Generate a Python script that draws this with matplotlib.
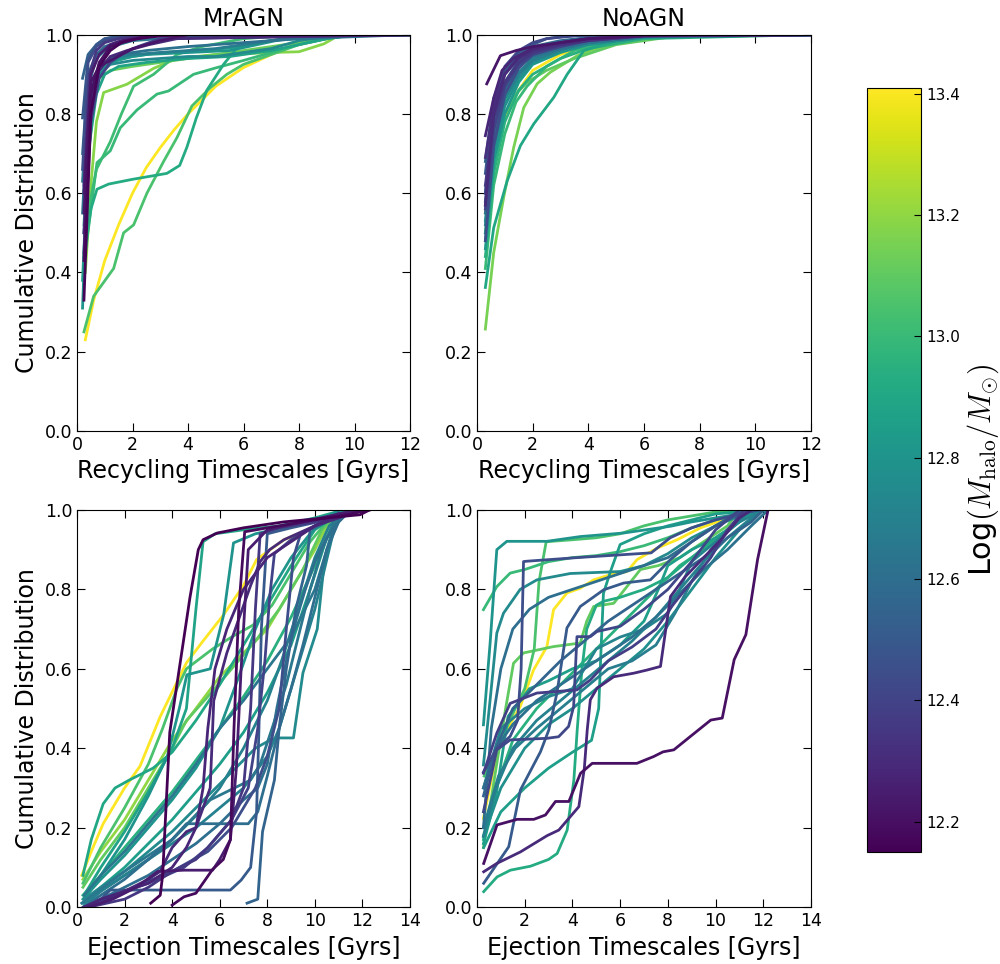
import matplotlib
matplotlib.use('Agg')
import matplotlib.pyplot as plt
from matplotlib import colors, cm

# halo masses and CDF curves
# --- MrAGN recycling ---
rec_mr_mass = [12.16, 12.2, 12.22, 12.25, 12.3, 12.35, 12.4, 12.45, 12.5, 12.55, 12.58, 12.62, 12.65,
               12.68, 12.75, 12.8, 12.85, 12.88, 12.92, 13.0, 13.02, 13.05, 13.12, 13.18, 13.41]
rec_mr_t = [
    [0.25, 0.5, 0.8, 1.2, 1.6, 2.2, 3, 4, 12],
    [0.25, 0.5, 0.8, 1.2, 1.8, 2.5, 3.5, 12],
    [0.25, 0.5, 0.8, 1.2, 1.6, 2, 3, 4, 12],
    [0.25, 0.5, 0.8, 1.2, 1.6, 2.4, 3.2, 12],
    [0.25, 0.5, 0.8, 1.2, 1.8, 2.6, 3.6, 12],
    [0.25, 0.45, 0.7, 1, 1.5, 2, 3, 12],
    [0.25, 0.5, 0.8, 1.2, 1.6, 2.2, 3, 12],
    [0.2, 0.4, 0.7, 1, 1.5, 2, 12],
    [0.2, 0.4, 0.7, 1, 1.4, 2, 12],
    [0.2, 0.4, 0.7, 1, 1.5, 2.2, 12],
    [0.2, 0.4, 0.7, 1.0, 1.4, 2, 3, 12],
    [0.2, 0.4, 0.7, 1, 1.5, 2.5, 4, 6, 8, 12],
    [0.2, 0.4, 0.7, 1, 1.5, 2, 3, 4, 6, 12],
    [0.25, 0.5, 0.8, 1.2, 2, 3, 4, 5, 6, 7, 8, 12],
    [0.25, 0.5, 0.8, 1.2, 2, 3, 4, 5, 6, 7, 8, 9, 10, 12],
    [0.2, 0.4, 0.7, 1, 1.5, 2.5, 4, 5.5, 6.5, 7.5, 9, 12],
    [0.25, 0.5, 0.8, 1.2, 2, 3, 4.5, 6, 7, 8, 9, 12],
    [0.2, 0.4, 0.7, 1, 1.5, 2.5, 4, 5.5, 7, 8, 9, 10, 12],
    [0.25, 0.5, 0.72, 1.14, 2, 3.24, 3.7, 3.96, 4.3, 4.68, 5.29, 5.77, 6.5, 7.5, 8.5, 12],
    [0.3, 0.72, 1.2, 1.56, 2.16, 2.88, 3.3, 4.2, 5.04, 6, 7, 8, 9, 10, 12],
    [0.3, 0.7, 1.2, 1.6, 2.04, 2.76, 3.6, 4.5, 6, 8, 12],
    [0.25, 0.6, 1.32, 1.68, 2.04, 2.52, 3.12, 3.6, 4.14, 4.8, 5.4, 6, 7, 8, 9, 10, 12],
    [0.3, 0.5, 0.8, 1.2, 2, 3, 4, 5, 6, 7, 8, 9, 10, 12],
    [0.3, 0.5, 0.7, 0.96, 1.4, 1.8, 2.76, 3.6, 5, 6, 7, 8, 8.9, 9.4, 10, 12],
    [0.3, 0.6, 1, 1.5, 2, 2.5, 3, 3.5, 4, 5, 6, 7, 8, 9, 10, 12],
]
rec_mr_f = [
    [0.33, 0.80, 0.92, 0.96, 0.98, 0.99, 0.997, 1, 1],
    [0.43, 0.85, 0.93, 0.97, 0.985, 0.995, 1, 1],
    [0.55, 0.88, 0.92, 0.935, 0.95, 0.965, 0.985, 1, 1],
    [0.6, 0.9, 0.95, 0.975, 0.985, 0.995, 1, 1],
    [0.5, 0.83, 0.91, 0.945, 0.96, 0.975, 0.99, 1],
    [0.62, 0.9, 0.96, 0.98, 0.99, 0.995, 1, 1],
    [0.45, 0.78, 0.89, 0.93, 0.95, 0.97, 0.99, 1],
    [0.66, 0.93, 0.97, 0.985, 0.995, 1, 1],
    [0.79, 0.94, 0.975, 0.99, 0.995, 1, 1],
    [0.89, 0.95, 0.975, 0.99, 0.995, 1, 1],
    [0.7, 0.9, 0.95, 0.97, 0.98, 0.99, 1, 1],
    [0.55, 0.82, 0.9, 0.93, 0.95, 0.96, 0.97, 0.98, 0.99, 1],
    [0.63, 0.87, 0.94, 0.96, 0.975, 0.985, 0.99, 0.995, 1, 1],
    [0.6, 0.86, 0.92, 0.94, 0.95, 0.955, 0.96, 0.965, 0.975, 0.985, 0.995, 1],
    [0.5, 0.8, 0.9, 0.925, 0.935, 0.94, 0.945, 0.945, 0.955, 0.965, 0.985, 0.995, 1, 1],
    [0.31, 0.7, 0.88, 0.92, 0.94, 0.95, 0.955, 0.96, 0.975, 0.99, 1, 1],
    [0.52, 0.82, 0.91, 0.93, 0.945, 0.955, 0.96, 0.97, 0.985, 0.99, 1, 1],
    [0.38, 0.7, 0.85, 0.9, 0.92, 0.93, 0.94, 0.945, 0.96, 0.975, 0.99, 1, 1],
    [0.44, 0.56, 0.61, 0.623, 0.635, 0.65, 0.67, 0.716, 0.79, 0.86, 0.926, 0.967, 0.98, 0.99, 1, 1],
    [0.45, 0.677, 0.707, 0.765, 0.81, 0.85, 0.858, 0.9, 0.917, 0.935, 0.955, 0.975, 0.99, 1, 1],
    [0.52, 0.66, 0.73, 0.8, 0.87, 0.9, 0.95, 0.97, 0.99, 1, 1],
    [0.25, 0.34, 0.41, 0.5, 0.52, 0.6, 0.68, 0.74, 0.82, 0.866, 0.9, 0.925, 0.95, 0.975, 0.99, 1, 1],
    [0.55, 0.8, 0.89, 0.91, 0.92, 0.93, 0.94, 0.95, 0.96, 0.97, 0.98, 0.99, 1, 1],
    [0.4, 0.62, 0.78, 0.854, 0.865, 0.875, 0.915, 0.94, 0.95, 0.952, 0.955, 0.957, 0.977, 0.997, 1, 1],
    [0.23, 0.33, 0.43, 0.52, 0.6, 0.665, 0.715, 0.76, 0.80, 0.87, 0.917, 0.95, 0.98, 0.99, 1, 1],
]

# --- NoAGN recycling ---
rec_no_mass = [12.22, 12.28, 12.32, 12.35, 12.4, 12.45, 12.5, 12.55, 12.6, 12.62, 12.68, 12.72, 12.78,
               12.82, 12.9, 12.95, 13.0, 13.15, 13.4, 13.1, 12.85, 12.42, 12.3, 12.58, 12.92]
rec_no_t = [
    [0.35, 0.84, 1.4, 2, 3, 4, 6, 8, 12],
    [0.3, 0.6, 0.9, 1.3, 2, 3, 4, 6, 12],
    [0.3, 0.6, 1, 1.5, 2, 3, 4, 6, 12],
    [0.3, 0.6, 1, 1.5, 2, 3, 4, 6, 12],
    [0.3, 0.6, 1, 1.5, 2, 3, 4, 6, 12],
    [0.3, 0.6, 1, 1.5, 2, 3, 4, 6, 12],
    [0.3, 0.6, 1, 1.5, 2, 2.5, 3, 4, 12],
    [0.3, 0.6, 1, 1.5, 2, 3, 4, 6, 12],
    [0.3, 0.6, 1, 1.5, 2, 3, 4, 6, 12],
    [0.3, 0.6, 1, 1.5, 2, 3, 4, 6, 12],
    [0.3, 0.6, 1, 1.5, 2, 3, 4, 6, 12],
    [0.3, 0.6, 1, 1.5, 2, 3, 4, 6, 12],
    [0.3, 0.6, 1, 1.5, 2, 3, 4, 6, 12],
    [0.3, 0.6, 1, 1.5, 2, 3, 4, 6, 12],
    [0.3, 0.6, 1.08, 1.56, 2.04, 2.76, 3.24, 3.84, 5, 6, 8, 12],
    [0.3, 0.6, 1, 1.5, 2, 3, 4, 6, 12],
    [0.3, 0.6, 1, 1.4, 1.8, 2.5, 3.5, 5, 7, 12],
    [0.3, 0.6, 0.96, 1.32, 1.68, 2.16, 2.63, 3.6, 4.07, 5, 6, 8, 12],
    [0.3, 0.6, 1, 1.5, 2, 3, 4, 6, 8, 12],
    [0.3, 0.6, 1, 1.4, 1.8, 2.5, 3.5, 5, 7, 12],
    [0.3, 0.6, 1, 1.5, 2, 3, 4, 6, 12],
    [0.3, 0.6, 1, 1.5, 2, 2.5, 3.5, 5, 12],
    [0.3, 0.6, 1, 1.5, 2, 3, 4, 6, 12],
    [0.3, 0.6, 1, 1.5, 2, 3, 4, 6, 12],
    [0.3, 0.6, 1, 1.5, 2, 3, 4, 6, 12],
]
rec_no_f = [
    [0.876, 0.947, 0.96, 0.97, 0.98, 0.99, 0.997, 1, 1],
    [0.745, 0.84, 0.91, 0.94, 0.965, 0.98, 0.99, 0.998, 1],
    [0.69, 0.82, 0.9, 0.94, 0.96, 0.975, 0.985, 0.997, 1],
    [0.62, 0.79, 0.88, 0.93, 0.955, 0.975, 0.988, 0.998, 1],
    [0.56, 0.76, 0.87, 0.925, 0.95, 0.97, 0.985, 0.997, 1],
    [0.48, 0.72, 0.85, 0.915, 0.95, 0.975, 0.99, 0.998, 1],
    [0.65, 0.83, 0.91, 0.955, 0.975, 0.99, 0.995, 1, 1],
    [0.58, 0.77, 0.88, 0.935, 0.96, 0.98, 0.99, 0.998, 1],
    [0.55, 0.74, 0.86, 0.92, 0.95, 0.972, 0.985, 0.997, 1],
    [0.6, 0.78, 0.87, 0.92, 0.945, 0.965, 0.98, 0.995, 1],
    [0.52, 0.72, 0.84, 0.9, 0.935, 0.962, 0.98, 0.995, 1],
    [0.57, 0.75, 0.85, 0.905, 0.94, 0.965, 0.98, 0.996, 1],
    [0.5, 0.7, 0.82, 0.89, 0.93, 0.958, 0.975, 0.994, 1],
    [0.46, 0.68, 0.8, 0.88, 0.925, 0.955, 0.975, 0.993, 1],
    [0.362, 0.513, 0.63, 0.72, 0.775, 0.842, 0.9, 0.96, 0.985, 0.995, 1, 1],
    [0.44, 0.65, 0.78, 0.86, 0.9, 0.94, 0.965, 0.99, 1],
    [0.41, 0.62, 0.75, 0.83, 0.87, 0.92, 0.96, 0.985, 1, 1],
    [0.257, 0.45, 0.59, 0.716, 0.816, 0.876, 0.905, 0.947, 0.96, 0.98, 0.99, 1, 1],
    [0.55, 0.7, 0.79, 0.86, 0.91, 0.95, 0.975, 0.995, 1, 1],
    [0.5, 0.68, 0.8, 0.85, 0.88, 0.91, 0.94, 0.975, 0.995, 1],
    [0.53, 0.74, 0.86, 0.92, 0.95, 0.97, 0.985, 0.997, 1],
    [0.6, 0.82, 0.92, 0.96, 0.98, 0.99, 0.997, 1, 1],
    [0.57, 0.8, 0.9, 0.945, 0.965, 0.98, 0.99, 0.998, 1],
    [0.68, 0.84, 0.91, 0.95, 0.97, 0.985, 0.993, 0.999, 1],
    [0.48, 0.7, 0.83, 0.9, 0.94, 0.965, 0.98, 0.995, 1],
]

# --- MrAGN ejection ---
ej_mr_mass = [13.41, 12.15, 12.18, 12.8, 12.3, 12.35, 12.4, 12.45, 12.55, 12.5, 12.25, 12.75, 12.6,
              12.9, 13.2, 13.1, 13.05, 12.95, 12.85, 12.7, 12.8, 12.65, 12.88, 12.6, 12.7, 12.65, 12.28]
ej_mr_t = [
    [0.2, 0.6, 1.1, 2.0, 2.65, 3.5, 4.6, 5.3, 6.15, 7.0, 7.55, 8.7, 10.1, 11.0, 12.0],
    [3.1, 3.5, 3.6, 3.9, 4.3, 4.75, 5.1, 5.3, 5.9, 7.0, 8.7, 10.5, 11.9, 12.3],
    [4.0, 4.5, 5.0, 5.7, 6.15, 6.45, 6.6, 6.8, 7.05, 8.0, 10.0, 11.5, 12.2],
    [0.3, 1, 2, 3, 3.8, 4.3, 4.62, 5.6, 6.17, 6.58, 7.5, 9, 10.5, 11.5],
    [0.3, 1, 2, 3, 3.5, 4, 4.6, 5.0, 5.6, 5.75, 6.3, 7.3, 7.7, 8.1, 8.7, 10, 11.5, 12.2],
    [0.5, 2, 3, 4, 5, 5.5, 6.5, 7.0, 7.3, 7.5, 7.7, 8.5, 10, 11, 12],
    [0.3, 1.5, 3, 4.5, 5.5, 6.5, 7.2, 7.6, 7.9, 8.1, 8.3, 9.0, 10, 11, 12],
    [0.3, 2, 4, 5.5, 6.5, 7.5, 8, 8.5, 8.8, 9.1, 9.4, 10, 11, 12],
    [7.15, 7.6, 7.8, 8.3, 8.5, 8.8, 9.2, 9.65, 9.8, 10.5, 11.5, 12.1],
    [0.3, 1, 1.4, 3, 6.45, 6.9, 7.3, 7.55, 7.65, 7.75, 8.0, 9, 10.5, 12],
    [0.5, 1.5, 2.5, 3.4, 4.5, 5.7, 6.0, 6.45, 6.7, 6.9, 7.2, 8, 9.5, 11, 12.3],
    [0.3, 1, 2, 3, 4, 5, 6, 7, 7.5, 8.1, 8.4, 9.1, 9.5, 10.1, 10.4, 10.9, 11.3],
    [0.3, 1, 2, 3, 4, 4.6, 7.2, 7.6, 8.0, 8.5, 9, 9.5, 10, 10.5, 11, 11.5],
    [0.25, 0.6, 1.1, 1.6, 2.2, 3.2, 4.0, 5, 6, 7, 8, 9, 10, 11, 11.5],
    [0.25, 1, 2, 3, 4, 5, 6, 7, 8, 9, 10, 10.5, 11],
    [0.25, 1, 2, 3, 4, 4.6, 5.5, 6.5, 7.5, 8.5, 9.5, 10.3, 11],
    [0.25, 1, 2, 3, 3.6, 4.2, 4.6, 5.7, 6.5, 7.4, 8.2, 9, 9.8, 10.5, 11],
    [0.25, 1, 2, 3, 4, 5, 6, 7, 8, 9, 10, 10.8, 11.2],
    [0.25, 1, 2, 3, 4, 5, 6, 7, 8, 9, 9.8, 10.5, 11.2],
    [0.25, 1, 2, 3, 4, 5, 6, 7, 8, 8.6, 9.3, 10, 10.6, 11.3],
    [0.25, 1, 2, 3, 4, 5, 6, 6.8, 7.5, 8.2, 9, 9.8, 10.5, 11],
    [0.2, 2, 4, 5.6, 7.3, 7.7, 8.2, 8.8, 9.3, 9.8, 10.3, 10.8, 11.4],
    [0.3, 1, 2, 3, 4, 4.6, 5.0, 5.3, 5.8, 7, 8.5, 10, 11.2],
    [0.3, 1, 2, 3, 4, 5, 6, 7, 7.6, 8.0, 8.4, 8.8, 9.2, 9.6, 10, 10.5, 11, 11.5],
    [0.3, 1, 2, 3, 4, 5, 6, 7, 8, 8.5, 9, 9.5, 10, 10.4, 10.8, 11.2],
    [0.3, 1, 2, 3, 4, 5, 6, 7, 8, 9, 10, 10.5, 11],
    [0.3, 1, 2, 3, 4, 4.6, 5.0, 5.3, 5.5, 5.8, 6.3, 7, 8, 9, 10, 11, 12],
]
ej_mr_f = [
    [0.08, 0.14, 0.21, 0.30, 0.355, 0.48, 0.615, 0.67, 0.735, 0.81, 0.875, 0.925, 0.96, 0.985, 1.0],
    [0.01, 0.03, 0.08, 0.44, 0.6, 0.78, 0.9, 0.925, 0.942, 0.955, 0.97, 0.98, 0.988, 1.0],
    [0.005, 0.026, 0.035, 0.095, 0.12, 0.17, 0.45, 0.75, 0.945, 0.955, 0.975, 0.99, 1.0],
    [0.02, 0.08, 0.17, 0.28, 0.38, 0.5, 0.585, 0.6, 0.737, 0.917, 0.94, 0.96, 0.98, 1.0],
    [0.0, 0.01, 0.04, 0.07, 0.09, 0.15, 0.19, 0.2, 0.3, 0.52, 0.64, 0.81, 0.87, 0.9, 0.925, 0.96, 0.99, 1.0],
    [0.0, 0.02, 0.05, 0.09, 0.12, 0.15, 0.22, 0.3, 0.5, 0.75, 0.94, 0.955, 0.97, 0.99, 1.0],
    [0.0, 0.03, 0.06, 0.1, 0.15, 0.22, 0.3, 0.45, 0.62, 0.78, 0.89, 0.925, 0.96, 0.99, 1.0],
    [0.0, 0.04, 0.09, 0.14, 0.2, 0.3, 0.38, 0.5, 0.7, 0.88, 0.94, 0.96, 0.985, 1.0],
    [0.01, 0.02, 0.19, 0.32, 0.45, 0.6, 0.75, 0.86, 0.95, 0.97, 0.99, 1.0],
    [0.0, 0.02, 0.043, 0.043, 0.043, 0.068, 0.1, 0.24, 0.45, 0.7, 0.94, 0.955, 0.975, 1.0],
    [0.0, 0.02, 0.05, 0.09, 0.093, 0.093, 0.12, 0.17, 0.35, 0.6, 0.9, 0.95, 0.97, 0.99, 1.0],
    [0.02, 0.05, 0.09, 0.14, 0.19, 0.25, 0.31, 0.37, 0.4, 0.42, 0.426, 0.426, 0.59, 0.7, 0.87, 0.975, 1.0],
    [0.0, 0.03, 0.07, 0.12, 0.17, 0.21, 0.21, 0.24, 0.33, 0.45, 0.55, 0.66, 0.78, 0.9, 0.97, 1.0],
    [0.08, 0.17, 0.26, 0.3, 0.32, 0.35, 0.39, 0.47, 0.56, 0.66, 0.76, 0.86, 0.95, 0.99, 1.0],
    [0.07, 0.14, 0.22, 0.32, 0.42, 0.5, 0.58, 0.64, 0.7, 0.8, 0.9, 0.96, 1.0],
    [0.05, 0.12, 0.2, 0.3, 0.4, 0.47, 0.53, 0.6, 0.67, 0.75, 0.85, 0.95, 1.0],
    [0.06, 0.15, 0.25, 0.36, 0.45, 0.55, 0.6, 0.65, 0.68, 0.71, 0.76, 0.84, 0.92, 0.97, 1.0],
    [0.03, 0.08, 0.15, 0.22, 0.29, 0.37, 0.45, 0.53, 0.62, 0.73, 0.86, 0.97, 1.0],
    [0.01, 0.05, 0.1, 0.16, 0.22, 0.29, 0.36, 0.44, 0.54, 0.66, 0.8, 0.93, 1.0],
    [0.0, 0.04, 0.08, 0.12, 0.17, 0.23, 0.3, 0.4, 0.52, 0.62, 0.75, 0.88, 0.96, 1.0],
    [0.02, 0.07, 0.13, 0.2, 0.27, 0.35, 0.45, 0.58, 0.7, 0.8, 0.88, 0.94, 0.98, 1.0],
    [0.01, 0.09, 0.17, 0.27, 0.32, 0.36, 0.45, 0.56, 0.68, 0.8, 0.9, 0.97, 1.0],
    [0.03, 0.1, 0.19, 0.29, 0.4, 0.5, 0.75, 0.92, 0.94, 0.95, 0.96, 0.98, 1.0],
    [0.0, 0.02, 0.05, 0.08, 0.12, 0.16, 0.21, 0.27, 0.3, 0.36, 0.5, 0.62, 0.72, 0.8, 0.87, 0.93, 0.97, 1.0],
    [0.01, 0.04, 0.08, 0.12, 0.16, 0.2, 0.25, 0.3, 0.38, 0.45, 0.55, 0.65, 0.75, 0.85, 0.95, 1.0],
    [0.03, 0.08, 0.14, 0.21, 0.28, 0.36, 0.45, 0.52, 0.6, 0.68, 0.8, 0.9, 1.0],
    [0.0, 0.02, 0.04, 0.06, 0.1, 0.15, 0.2, 0.3, 0.45, 0.6, 0.7, 0.8, 0.88, 0.92, 0.96, 0.99, 1.0],
]

# --- NoAGN ejection ---
ej_no_mass = [12.2, 12.3, 12.45, 12.5, 12.42, 12.38, 12.92, 12.85, 12.8, 12.75, 13.0, 13.05, 13.42,
              12.7, 12.62, 12.85, 13.1, 12.95, 12.55, 12.68, 12.78, 12.6, 12.72]
ej_no_t = [
    [0.28, 0.84, 1.68, 2.38, 2.87, 3.29, 3.85, 4.34, 4.83, 5.5, 6.7, 7.4, 7.8, 8.25, 8.95, 9.8, 10.28, 10.78, 11.27, 11.76, 12.2],
    [0.28, 0.83, 1.82, 2.94, 3.43, 4.27, 4.5, 4.62, 4.75, 5.03, 5.73, 6.57, 7.13, 7.69, 8.11, 8.7, 9.5, 10.3, 11, 11.5],
    [0.27, 0.83, 1.39, 1.7, 1.85, 1.95, 2.1, 4.2, 7.3, 8.1, 9, 10, 11, 11.8],
    [0.28, 1.33, 1.82, 2.66, 3.01, 3.35, 3.77, 4.33, 5.31, 6.15, 7.27, 8.11, 9, 10, 11, 11.8],
    [0.27, 0.83, 1.39, 2.93, 3.42, 3.84, 4.05, 4.19, 4.75, 5.03, 6.0, 7, 8, 9, 10, 11],
    [0.27, 0.83, 1.39, 2.51, 4.19, 4.75, 5.5, 6.5, 7.5, 8.2, 9, 9.8, 10.5, 11.2],
    [0.28, 0.84, 1.4, 2.24, 3.0, 3.36, 3.78, 4.06, 4.2, 4.4, 4.6, 5.0, 5.3, 6, 7, 8, 9, 10, 11, 11.8],
    [0.28, 1, 2, 3, 4, 4.8, 5.1, 5.2, 5.3, 5.6, 6.0, 7, 8, 9, 10, 11, 12],
    [0.27, 0.55, 0.83, 1.25, 2.93, 4.33, 6.15, 8.11, 9, 10, 11, 12],
    [0.27, 0.55, 0.83, 1.11, 1.81, 2.51, 3.91, 6.0, 7, 8, 9, 10, 11, 12],
    [0.27, 0.83, 1.39, 2.0, 2.5, 3.0, 4, 5, 6, 7, 8, 9, 10, 11, 12],
    [0.3, 1, 1.6, 2.0, 2.4, 2.6, 2.9, 4, 5, 6, 7, 8, 9, 10, 11],
    [0.27, 0.83, 1.25, 1.81, 2.37, 2.93, 3.21, 3.77, 4.33, 4.89, 5.59, 6.29, 6.71, 7.55, 8.39, 9.37, 10.3, 11.2, 12],
    [0.27, 0.8, 1.5, 2.5, 3.5, 4.5, 5.5, 6.5, 7.5, 8.5, 9.5, 10.5, 11.5, 12],
    [0.27, 0.8, 1.5, 2.5, 3.5, 4.5, 5.5, 6.5, 7.5, 8.5, 9.5, 10.5, 11.5, 12.2],
    [0.27, 0.8, 1.3, 2.2, 3, 4, 5, 6, 7, 7.6, 8, 9, 10, 11, 11.6],
    [0.27, 0.8, 1.2, 1.53, 1.95, 3.21, 4.33, 4.6, 4.89, 5.73, 6.85, 7.6, 8.5, 9.5, 10.5, 11],
    [0.27, 0.8, 1.5, 2.5, 3.5, 4.5, 5.5, 6.5, 7.5, 8.5, 9.5, 10.5, 11.5],
    [0.27, 0.8, 1.5, 2.5, 3.5, 4.5, 5.5, 6.5, 7.5, 8.5, 9.5, 10.5, 11.5, 12],
    [0.27, 0.9, 1.6, 2.5, 3.5, 4.5, 5.5, 6.5, 7.5, 8.3, 9, 9.8, 10.5, 11.5],
    [0.27, 1, 2, 3, 4, 5, 6, 7, 8, 9, 10, 11, 12],
    [0.27, 0.6, 1, 1.5, 2.2, 3, 4, 5, 6, 7, 8, 9, 10, 10.8, 11.5],
    [0.27, 1, 2, 3, 4, 4.5, 5, 6, 7, 8, 8.5, 9, 10, 11, 12],
]
ej_no_f = [
    [0.11, 0.207, 0.221, 0.221, 0.232, 0.266, 0.266, 0.337, 0.362, 0.362, 0.362, 0.379, 0.391, 0.396, 0.43, 0.471, 0.476, 0.623, 0.686, 0.875, 1.0],
    [0.089, 0.11, 0.139, 0.18, 0.194, 0.253, 0.35, 0.446, 0.522, 0.551, 0.58, 0.589, 0.597, 0.606, 0.782, 0.83, 0.88, 0.93, 0.98, 1.0],
    [0.34, 0.4, 0.43, 0.47, 0.6, 0.87, 0.871, 0.88, 0.892, 0.93, 0.955, 0.975, 0.99, 1.0],
    [0.06, 0.152, 0.295, 0.391, 0.446, 0.539, 0.703, 0.757, 0.799, 0.816, 0.824, 0.875, 0.92, 0.96, 0.99, 1.0],
    [0.24, 0.396, 0.421, 0.425, 0.429, 0.455, 0.505, 0.681, 0.681, 0.694, 0.707, 0.75, 0.8, 0.87, 0.95, 1.0],
    [0.337, 0.438, 0.513, 0.539, 0.547, 0.572, 0.62, 0.655, 0.7, 0.76, 0.82, 0.88, 0.95, 1.0],
    [0.039, 0.076, 0.093, 0.103, 0.12, 0.135, 0.194, 0.32, 0.446, 0.6, 0.7, 0.76, 0.77, 0.78, 0.8, 0.83, 0.88, 0.93, 0.97, 1.0],
    [0.15, 0.24, 0.3, 0.35, 0.39, 0.42, 0.5, 0.65, 0.79, 0.846, 0.913, 0.94, 0.96, 0.975, 0.99, 0.995, 1.0],
    [0.459, 0.665, 0.9, 0.921, 0.921, 0.933, 0.942, 0.959, 0.97, 0.98, 0.99, 1.0],
    [0.358, 0.522, 0.69, 0.74, 0.8, 0.824, 0.84, 0.845, 0.86, 0.89, 0.93, 0.96, 0.985, 1.0],
    [0.749, 0.807, 0.841, 0.85, 0.86, 0.87, 0.88, 0.885, 0.895, 0.91, 0.93, 0.955, 0.975, 0.99, 1.0],
    [0.33, 0.42, 0.5, 0.55, 0.65, 0.82, 0.92, 0.925, 0.93, 0.94, 0.96, 0.975, 0.985, 0.995, 1.0],
    [0.224, 0.387, 0.446, 0.505, 0.597, 0.656, 0.749, 0.791, 0.803, 0.824, 0.837, 0.845, 0.875, 0.904, 0.925, 0.955, 0.975, 0.99, 1.0],
    [0.18, 0.3, 0.4, 0.47, 0.52, 0.57, 0.62, 0.67, 0.73, 0.8, 0.87, 0.93, 0.98, 1.0],
    [0.3, 0.4, 0.46, 0.52, 0.56, 0.6, 0.64, 0.68, 0.73, 0.79, 0.85, 0.9, 0.96, 1.0],
    [0.16, 0.28, 0.48, 0.55, 0.57, 0.6, 0.62, 0.66, 0.72, 0.8, 0.86, 0.9, 0.93, 0.97, 1.0],
    [0.15, 0.35, 0.5, 0.614, 0.64, 0.656, 0.665, 0.72, 0.757, 0.765, 0.85, 0.86, 0.88, 0.92, 0.96, 1.0],
    [0.17, 0.3, 0.42, 0.5, 0.56, 0.62, 0.68, 0.74, 0.8, 0.86, 0.9, 0.95, 1.0],
    [0.28, 0.4, 0.5, 0.56, 0.62, 0.67, 0.72, 0.76, 0.8, 0.84, 0.88, 0.93, 0.97, 1.0],
    [0.2, 0.33, 0.4, 0.45, 0.5, 0.55, 0.6, 0.62, 0.66, 0.74, 0.82, 0.9, 0.95, 1.0],
    [0.177, 0.3, 0.4, 0.46, 0.5, 0.55, 0.6, 0.65, 0.72, 0.8, 0.88, 0.95, 1.0],
    [0.2, 0.45, 0.6, 0.7, 0.75, 0.78, 0.8, 0.82, 0.84, 0.86, 0.88, 0.92, 0.96, 0.99, 1.0],
    [0.3, 0.45, 0.5, 0.53, 0.55, 0.6, 0.65, 0.68, 0.7, 0.74, 0.8, 0.87, 0.92, 0.97, 1.0],
]

plt.rcParams['mathtext.fontset'] = 'cm'
plt.rcParams['xtick.direction'] = 'in'
plt.rcParams['ytick.direction'] = 'in'
plt.rcParams['xtick.top'] = True
plt.rcParams['ytick.right'] = True
plt.rcParams['xtick.major.size'] = 6
plt.rcParams['ytick.major.size'] = 6

norm = colors.Normalize(vmin=12.15, vmax=13.41)
cmap = plt.get_cmap('viridis')

fig = plt.figure(figsize=(10, 9.64), dpi=100)
ax_tl = fig.add_axes([0.077, 0.553, 0.333, 0.411])
ax_tr = fig.add_axes([0.477, 0.553, 0.334, 0.411])
ax_bl = fig.add_axes([0.077, 0.059, 0.333, 0.412])
ax_br = fig.add_axes([0.477, 0.059, 0.334, 0.412])
cax = fig.add_axes([0.867, 0.116, 0.054, 0.793])


def draw(ax, mass, times, cdfs):
    # dark (low mass) lines drawn last so they sit on top
    order = sorted(range(len(mass)), key=lambda i: -mass[i])
    for i in order:
        ax.plot(times[i], cdfs[i], color=cmap(norm(mass[i])), lw=2)


draw(ax_tl, rec_mr_mass, rec_mr_t, rec_mr_f)
draw(ax_tr, rec_no_mass, rec_no_t, rec_no_f)
draw(ax_bl, ej_mr_mass, ej_mr_t, ej_mr_f)
draw(ax_br, ej_no_mass, ej_no_t, ej_no_f)

for ax in [ax_tl, ax_tr]:
    ax.set_xlim(0, 12)
    ax.set_xticks(range(0, 13, 2))
    ax.set_xlabel('Recycling Timescales [Gyrs]', fontsize=17)
for ax in [ax_bl, ax_br]:
    ax.set_xlim(0, 14)
    ax.set_xticks(range(0, 15, 2))
    ax.set_xlabel('Ejection Timescales [Gyrs]', fontsize=17)
for ax in [ax_tl, ax_tr, ax_bl, ax_br]:
    ax.set_ylim(0, 1)
    ax.set_yticks([0, 0.2, 0.4, 0.6, 0.8, 1.0])
    ax.set_yticklabels(['0.0', '0.2', '0.4', '0.6', '0.8', '1.0'])
    ax.tick_params(labelsize=12.5)
ax_tl.set_ylabel('Cumulative Distribution', fontsize=17)
ax_bl.set_ylabel('Cumulative Distribution', fontsize=17)
ax_tl.set_title('MrAGN', fontsize=17)
ax_tr.set_title('NoAGN', fontsize=17)

sm = cm.ScalarMappable(norm=norm, cmap=cmap)
cb = fig.colorbar(sm, cax=cax)
cb.set_ticks([12.2, 12.4, 12.6, 12.8, 13.0, 13.2, 13.4])
cb.ax.tick_params(labelsize=11, direction='in', length=5)
cb.set_label(r'Log$(M_{\rm halo}/M_{\odot})$', fontsize=22)

fig.savefig('out.png', dpi=100)
